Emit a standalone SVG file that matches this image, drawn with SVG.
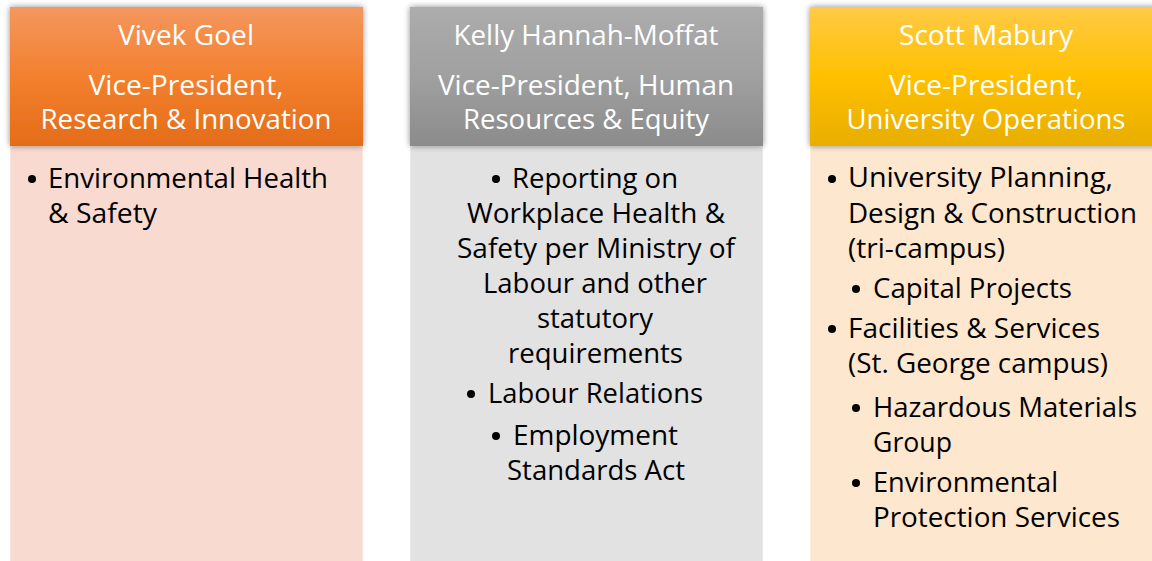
<svg xmlns="http://www.w3.org/2000/svg" width="1152" height="561" viewBox="0 0 1152 561">
  <defs>
    <linearGradient id="gOrange" x1="0" y1="0" x2="0" y2="1">
      <stop offset="0" stop-color="#F4975F"/>
      <stop offset="0.5" stop-color="#F3802E"/>
      <stop offset="1" stop-color="#E46C18"/>
    </linearGradient>
    <linearGradient id="gGray" x1="0" y1="0" x2="0" y2="1">
      <stop offset="0" stop-color="#ACACAC"/>
      <stop offset="0.5" stop-color="#A0A0A0"/>
      <stop offset="1" stop-color="#8B8B8B"/>
    </linearGradient>
    <linearGradient id="gYellow" x1="0" y1="0" x2="0" y2="1">
      <stop offset="0" stop-color="#FFCA47"/>
      <stop offset="0.5" stop-color="#FFC000"/>
      <stop offset="1" stop-color="#E8AE00"/>
    </linearGradient>
    <filter id="shadow" x="-10%" y="-20%" width="120%" height="140%">
      <feGaussianBlur in="SourceAlpha" stdDeviation="3"/>
      <feComponentTransfer><feFuncA type="linear" slope="0.45"/></feComponentTransfer>
      <feMerge><feMergeNode/><feMergeNode in="SourceGraphic"/></feMerge>
    </filter>
  </defs>
  <style>
    .hdr { filter: url(#shadow); }
    .body { stroke: #FFFFFF; stroke-opacity: 0.5; stroke-width: 1; }
    .ht { font-family: "Open Sans", Lato, "Liberation Sans", sans-serif; font-size: 27px; fill: #FFFFFF; text-anchor: middle; font-variant-ligatures: none; }
    .bt { font-family: "Open Sans", Lato, "Liberation Sans", sans-serif; font-size: 28px; fill: #000000; font-variant-ligatures: none; }
    .c { text-anchor: middle; }
    .bul { fill: #000000; }
  </style>
  <rect width="1152" height="561" fill="#FFFFFF"/>

  <g id="node-goel">
    <rect class="body" x="10" y="146" width="353" height="420" fill="#F9DAD0"/>
    <rect class="hdr" x="10" y="7" width="353" height="139" fill="url(#gOrange)"/>
    <text class="ht" x="186" y="45" textLength="136" lengthAdjust="spacingAndGlyphs">Vivek Goel</text>
    <text class="ht" x="186" y="95" textLength="195" lengthAdjust="spacingAndGlyphs">Vice-President,</text>
    <text class="ht" x="186" y="129" textLength="291" lengthAdjust="spacingAndGlyphs">Research &amp; Innovation</text>
    <circle class="bul" cx="32" cy="179" r="4"/>
    <text class="bt" x="48" y="188" textLength="280" lengthAdjust="spacingAndGlyphs">Environmental Health</text>
    <text class="bt" x="48" y="223" textLength="109" lengthAdjust="spacingAndGlyphs">&amp; Safety</text>
  </g>

  <g id="node-hannah-moffat">
    <rect class="body" x="410" y="146" width="353" height="420" fill="#E2E2E2"/>
    <rect class="hdr" x="410" y="7" width="353" height="139" fill="url(#gGray)"/>
    <text class="ht" x="586" y="45" textLength="265" lengthAdjust="spacingAndGlyphs">Kelly Hannah-Moffat</text>
    <text class="ht" x="586" y="95" textLength="296" lengthAdjust="spacingAndGlyphs">Vice-President, Human</text>
    <text class="ht" x="586" y="129" textLength="246" lengthAdjust="spacingAndGlyphs">Resources &amp; Equity</text>
    <circle class="bul" cx="496" cy="179" r="4"/>
    <text class="bt" x="512" y="188" textLength="166" lengthAdjust="spacingAndGlyphs">Reporting on</text>
    <text class="bt c" x="596" y="223" textLength="258" lengthAdjust="spacingAndGlyphs">Workplace Health &amp;</text>
    <text class="bt c" x="596" y="258" textLength="278" lengthAdjust="spacingAndGlyphs">Safety per Ministry of</text>
    <text class="bt c" x="595" y="293" textLength="224" lengthAdjust="spacingAndGlyphs">Labour and other</text>
    <text class="bt c" x="595" y="328" textLength="116" lengthAdjust="spacingAndGlyphs">statutory</text>
    <text class="bt c" x="595.5" y="363" textLength="175" lengthAdjust="spacingAndGlyphs">requirements</text>
    <circle class="bul" cx="471" cy="394" r="4"/>
    <text class="bt" x="488" y="403" textLength="215" lengthAdjust="spacingAndGlyphs">Labour Relations</text>
    <circle class="bul" cx="496" cy="436" r="4"/>
    <text class="bt" x="513" y="445" textLength="165" lengthAdjust="spacingAndGlyphs">Employment</text>
    <text class="bt c" x="596" y="480" textLength="178" lengthAdjust="spacingAndGlyphs">Standards Act</text>
  </g>

  <g id="node-mabury">
    <rect class="body" x="810" y="146" width="353" height="420" fill="#FEE7CF"/>
    <rect class="hdr" x="810" y="7" width="353" height="139" fill="url(#gYellow)"/>
    <text class="ht" x="986" y="45" textLength="174" lengthAdjust="spacingAndGlyphs">Scott Mabury</text>
    <text class="ht" x="986" y="95" textLength="194" lengthAdjust="spacingAndGlyphs">Vice-President,</text>
    <text class="ht" x="986" y="129" textLength="279" lengthAdjust="spacingAndGlyphs">University Operations</text>
    <circle class="bul" cx="832" cy="179" r="4"/>
    <text class="bt" x="848" y="187" textLength="265" lengthAdjust="spacingAndGlyphs">University Planning,</text>
    <text class="bt" x="848" y="223" textLength="289" lengthAdjust="spacingAndGlyphs">Design &amp; Construction</text>
    <text class="bt" x="848" y="258" textLength="157" lengthAdjust="spacingAndGlyphs">(tri-campus)</text>
    <circle class="bul" cx="856" cy="289" r="4"/>
    <text class="bt" x="873" y="298" textLength="199" lengthAdjust="spacingAndGlyphs">Capital Projects</text>
    <circle class="bul" cx="832" cy="329" r="4"/>
    <text class="bt" x="848" y="338" textLength="252" lengthAdjust="spacingAndGlyphs">Facilities &amp; Services</text>
    <text class="bt" x="848" y="373" textLength="260" lengthAdjust="spacingAndGlyphs">(St. George campus)</text>
    <circle class="bul" cx="856" cy="408" r="4"/>
    <text class="bt" x="873" y="417" textLength="264" lengthAdjust="spacingAndGlyphs">Hazardous Materials</text>
    <text class="bt" x="873" y="452" textLength="79" lengthAdjust="spacingAndGlyphs">Group</text>
    <circle class="bul" cx="856" cy="483" r="4"/>
    <text class="bt" x="873" y="492" textLength="185" lengthAdjust="spacingAndGlyphs">Environmental</text>
    <text class="bt" x="873" y="527" textLength="247" lengthAdjust="spacingAndGlyphs">Protection Services</text>
  </g>

  <g id="connectors"></g>
</svg>
